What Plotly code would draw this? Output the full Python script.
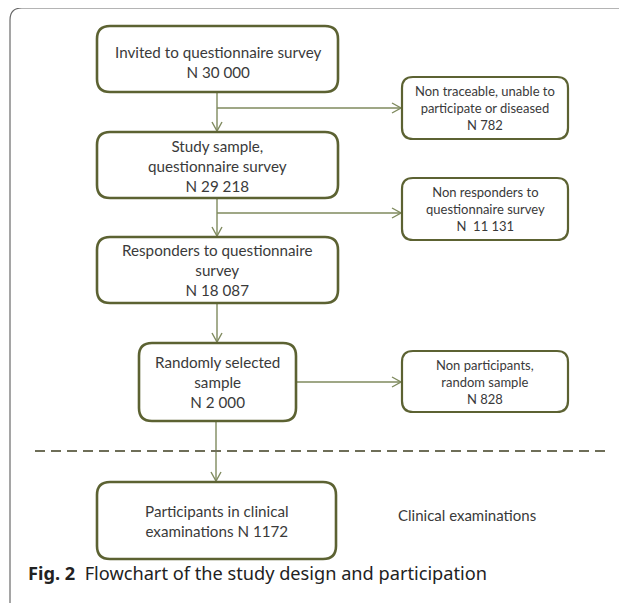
import plotly.graph_objects as go

# ---- flowchart content ----
node_labels = [
    "Invited to questionnaire survey<br>N 30 000",
    "Study sample,<br>questionnaire survey<br>N 29 218",
    "Responders to questionnaire<br>survey<br>N 18 087",
    "Randomly selected<br>sample<br>N 2 000",
    "Participants in clinical<br>examinations N 1172",
]
side_labels = [
    "Non traceable, unable to<br>participate or diseased<br>N 782",
    "Non responders to<br>questionnaire survey<br>N  11 131",
    "Non participants,<br>random sample<br>N 828",
]
phase_label = "Clinical examinations"
caption_bold = "Fig. 2"
caption_text = "Flowchart of the study design and participation"

# ---- layout geometry (page pixels, y downward) ----
node_boxes = [
    (97, 26, 338, 92),
    (97, 132, 338, 198),
    (97, 237, 338, 303),
    (139, 343, 296, 421),
    (97, 482, 336, 559),
]
node_text_dy = [3, 1, 0, 0, 0]
side_boxes = [
    (402, 77, 568, 139),
    (402, 178, 568, 240),
    (402, 351, 568, 412),
]
trunk_x = [217, 217, 217, 216]
branch_y = [108, 213, None]

W, H = 627, 603
OFF = 8  # page body margin
BOX = "#5c6232"
ARR = "#7f8a5e"
TXT = "#3a3a3a"


def rr(x0, y0, x1, y1, r):
    return (f"M {x0+r},{y0} L {x1-r},{y0} Q {x1},{y0} {x1},{y0+r} "
            f"L {x1},{y1-r} Q {x1},{y1} {x1-r},{y1} L {x0+r},{y1} "
            f"Q {x0},{y1} {x0},{y1-r} L {x0},{y0+r} Q {x0},{y0} {x0+r},{y0} Z")


shapes = []
annotations = []

# outer frame
shapes.append(dict(type="path", path=rr(10, 8, 640, 616, 12),
                   line=dict(color="#6a6a6a", width=1.2), layer="below"))


def line(x0, y0, x1, y1, color=ARR, width=1.4, dash="solid"):
    shapes.append(dict(type="line", x0=x0, y0=y0, x1=x1, y1=y1,
                       line=dict(color=color, width=width, dash=dash)))


def head_down(x, y):
    shapes.append(dict(type="path", path=f"M {x-5},{y-9} L {x},{y} L {x+5},{y-9}",
                       line=dict(color=ARR, width=1.4)))


def head_right(x, y):
    shapes.append(dict(type="path", path=f"M {x-9},{y-5} L {x},{y} L {x-9},{y+5}",
                       line=dict(color=ARR, width=1.4)))


# vertical trunk arrows
for i in range(4):
    x = trunk_x[i]
    y0 = node_boxes[i][3]
    y1 = node_boxes[i + 1][1]
    line(x, y0, x, y1 - 1)
    head_down(x, y1 - 1)

# horizontal branches from trunk
for i, by in enumerate(branch_y):
    if by is not None:
        line(trunk_x[i], by, side_boxes[i][0] - 1, by)
        head_right(side_boxes[i][0] - 1, by)
# branch from randomly selected sample box
by3 = 382
line(node_boxes[3][2], by3, side_boxes[2][0] - 1, by3)
head_right(side_boxes[2][0] - 1, by3)

# dashed separator
line(35, 451, 609, 451, color="#6e6e58", width=2.2, dash="10px,6px")

# boxes
for (x0, y0, x1, y1), lab, dy in zip(node_boxes, node_labels, node_text_dy):
    shapes.append(dict(type="path", path=rr(x0, y0, x1, y1, 13),
                       line=dict(color=BOX, width=2.6), fillcolor="white"))
    annotations.append(dict(x=(x0 + x1) / 2, y=(y0 + y1) / 2 + dy, text=lab,
                            showarrow=False, xanchor="center", yanchor="middle",
                            font=dict(family="Lato", size=15.2, color=TXT)))
for (x0, y0, x1, y1), lab in zip(side_boxes, side_labels):
    shapes.append(dict(type="path", path=rr(x0, y0, x1, y1, 11),
                       line=dict(color=BOX, width=2.2), fillcolor="white"))
    annotations.append(dict(x=(x0 + x1) / 2, y=(y0 + y1) / 2, text=lab,
                            showarrow=False, xanchor="center", yanchor="middle",
                            font=dict(family="Lato", size=13, color=TXT)))

annotations.append(dict(x=467, y=515, text=phase_label, showarrow=False,
                        xanchor="center", yanchor="middle",
                        font=dict(family="Lato", size=15, color=TXT)))

annotations.append(dict(x=26, y=573,
                        text=f"<b>{caption_bold}</b>  {caption_text}",
                        showarrow=False, xanchor="left", yanchor="middle",
                        font=dict(family="Noto Sans", size=18.2, color="#222222")))

fig = go.Figure()
fig.update_layout(
    width=W, height=H,
    margin=dict(l=0, r=0, t=0, b=0),
    paper_bgcolor="white", plot_bgcolor="white",
    xaxis=dict(range=[OFF, W + OFF], visible=False, fixedrange=True),
    yaxis=dict(range=[H + OFF, OFF], visible=False, fixedrange=True),
    shapes=shapes, annotations=annotations, showlegend=False,
)
fig.write_html("out.html")
